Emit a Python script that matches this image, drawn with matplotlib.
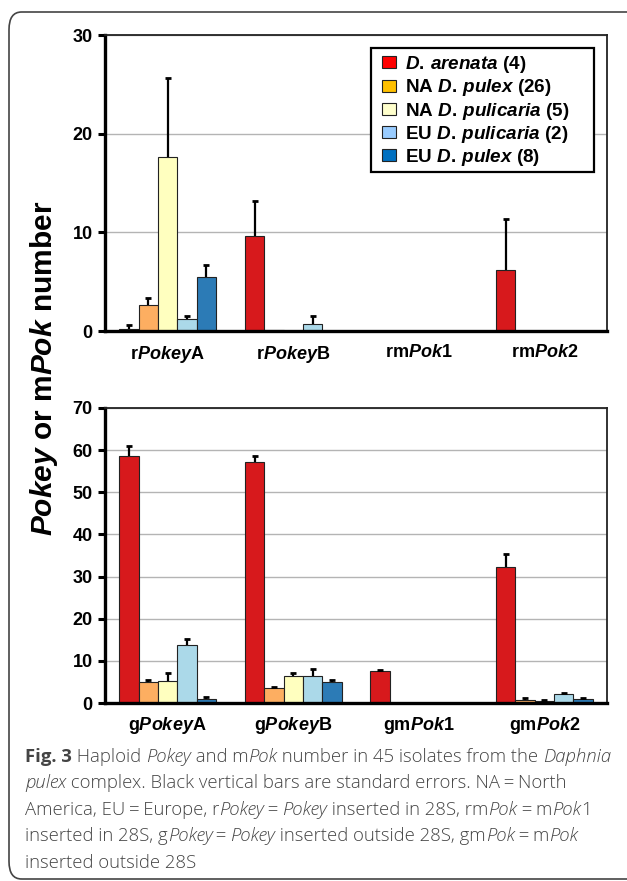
import numpy as np
import matplotlib
matplotlib.use("Agg")
import matplotlib.pyplot as plt
from matplotlib.patches import Patch, FancyBboxPatch, Rectangle

plt.rcParams['mathtext.fontset'] = 'custom'
plt.rcParams['mathtext.rm'] = 'Liberation Sans:bold'
plt.rcParams['mathtext.it'] = 'Liberation Sans:italic:bold'
plt.rcParams['mathtext.bf'] = 'Liberation Sans:bold'
plt.rcParams['font.family'] = ['Liberation Sans', 'DejaVu Sans']
plt.rcParams['font.weight'] = 'bold'

# ---------------- data ----------------
series = ['$D.\\,arenata$ (4)', 'NA $D.\\,pulex$ (26)', 'NA $D.\\,pulicaria$ (5)',
          'EU $D.\\,pulicaria$ (2)', 'EU $D.\\,pulex$ (8)']
bar_colors = ['#d7191c', '#fdae61', '#ffffbf', '#abd9e9', '#2c7bb6']
legend_colors = ['#ff0000', '#ffc000', '#ffffcc', '#99ccff', '#0070c0']

top_groups = ['r$Pokey$A', 'r$Pokey$B', 'rm$Pok$1', 'rm$Pok$2']
top_arenata = [0.25, 9.6, 0.0, 6.15]
top_na_pulex = [2.6, 0.13, 0.0, 0.0]
top_na_pulicaria = [17.6, 0.0, 0.0, 0.0]
top_eu_pulicaria = [1.2, 0.75, 0.0, 0.0]
top_eu_pulex = [5.5, 0.0, 0.0, 0.0]
top_err_arenata = [0.35, 3.6, 0.0, 5.25]
top_err_na_pulex = [0.75, 0.0, 0.0, 0.0]
top_err_na_pulicaria = [8.0, 0.0, 0.0, 0.0]
top_err_eu_pulicaria = [0.35, 0.8, 0.0, 0.0]
top_err_eu_pulex = [1.2, 0.0, 0.0, 0.0]

bot_groups = ['g$Pokey$A', 'g$Pokey$B', 'gm$Pok$1', 'gm$Pok$2']
bot_arenata = [58.5, 57.3, 7.5, 32.3]
bot_na_pulex = [5.05, 3.6, 0.0, 0.8]
bot_na_pulicaria = [5.3, 6.5, 0.0, 0.45]
bot_eu_pulicaria = [13.7, 6.5, 0.0, 2.05]
bot_eu_pulex = [1.0, 4.9, 0.0, 1.0]
bot_err_arenata = [2.4, 1.3, 0.4, 3.1]
bot_err_na_pulex = [0.45, 0.3, 0.0, 0.3]
bot_err_na_pulicaria = [1.8, 0.7, 0.0, 0.25]
bot_err_eu_pulicaria = [1.5, 1.6, 0.0, 0.25]
bot_err_eu_pulex = [0.4, 0.5, 0.0, 0.25]

top_vals = [top_arenata, top_na_pulex, top_na_pulicaria, top_eu_pulicaria, top_eu_pulex]
top_errs = [top_err_arenata, top_err_na_pulex, top_err_na_pulicaria, top_err_eu_pulicaria, top_err_eu_pulex]
bot_vals = [bot_arenata, bot_na_pulex, bot_na_pulicaria, bot_eu_pulicaria, bot_eu_pulex]
bot_errs = [bot_err_arenata, bot_err_na_pulex, bot_err_na_pulicaria, bot_err_eu_pulicaria, bot_err_eu_pulex]

W, H = 627, 881
fig = plt.figure(figsize=(W / 100, H / 100), dpi=100)

def fx(px):
    return px / W

def fy(py):
    return 1 - py / H

bw = 0.154

def draw_panel(ax, groups, vals, errs, ymax):
    x = np.arange(len(groups))
    for i, (v, e) in enumerate(zip(vals, errs)):
        pos = x + (i - 2) * bw
        ax.bar(pos, v, width=bw, color=bar_colors[i], edgecolor='#222222',
               linewidth=0.8, zorder=2)
        v = np.asarray(v)
        e = np.asarray(e)
        m = e > 0
        ax.vlines(pos[m], v[m], v[m] + e[m], colors='black', linewidth=1.6, zorder=3)
        ax.plot(pos[m], v[m] + e[m], linestyle='none', marker='_', markersize=5,
                markeredgewidth=2.0, color='black', zorder=3)
    ax.set_xlim(-0.5, len(groups) - 0.5)
    ax.set_ylim(0, ymax)
    ax.set_yticks(np.arange(0, ymax + 1, 10))
    ax.yaxis.grid(True, color='#b4b4b4', linewidth=1.0, zorder=0)
    ax.set_axisbelow(True)
    ax.set_xticks(x)
    ax.set_xticklabels(groups, fontsize=13, fontweight='bold')
    ax.tick_params(axis='x', length=0, pad=9)
    ax.tick_params(axis='y', direction='out', length=5, width=2.2,
                   labelsize=13, pad=4)
    for lab in ax.get_yticklabels():
        lab.set_fontweight('bold')
    for s in ['left', 'bottom']:
        ax.spines[s].set_linewidth(2.4)
        ax.spines[s].set_color('black')
    for s in ['top', 'right']:
        ax.spines[s].set_linewidth(1.3)
        ax.spines[s].set_color('#222222')

ax1 = fig.add_axes([fx(105), fy(331), fx(607) - fx(105), fy(35) - fy(331)])
draw_panel(ax1, top_groups, top_vals, top_errs, 30)

ax2 = fig.add_axes([fx(105), fy(703), fx(607) - fx(105), fy(408) - fy(703)])
draw_panel(ax2, bot_groups, bot_vals, bot_errs, 70)

# legend: frame drawn separately (wider right padding as in the original)
frame = Rectangle((fx(371), fy(172)), fx(594) - fx(371), fy(48) - fy(172),
                  transform=fig.transFigure, facecolor='white', edgecolor='black',
                  linewidth=1.6, zorder=4)
fig.add_artist(frame)
handles = [Patch(facecolor=c, edgecolor='#222222', linewidth=0.8) for c in legend_colors]
leg = fig.legend(handles, series, loc='upper left',
                 bbox_to_anchor=(fx(382), fy(54)), bbox_transform=fig.transFigure,
                 frameon=False,
                 prop={'family': 'Liberation Sans', 'weight': 'bold', 'size': 13.6},
                 handlelength=0.74, handleheight=0.6, handletextpad=0.46,
                 labelspacing=0.12, borderpad=0, borderaxespad=0)
leg.set_zorder(5)

fig.text(fx(44), fy(368), '$Pokey$ or m$Pok$ number', rotation=90,
         ha='center', va='center', fontsize=21.5, fontweight='bold')

# outer rounded border
border = FancyBboxPatch((fx(9), fy(879)), fx(640) - fx(9), fy(12) - fy(879),
                        boxstyle='round,pad=0,rounding_size=0.02',
                        transform=fig.transFigure, fill=False,
                        edgecolor='#444444', linewidth=1.2)
fig.add_artist(border)

# caption (rich text chained piecewise)
cap_ax = fig.add_axes([0, 0, 1, 1], facecolor='none')
cap_ax.set_axis_off()
cap_ax.set_xlim(0, 1)
cap_ax.set_ylim(0, 1)
cap_size = 13.3
cap_color = '#444444'
caption_lines = [
    [('Fig. 3', 'b'), (' Haploid ', 'n'), ('Pokey', 'i'), (' and m', 'n'), ('Pok', 'i'),
     (' number in 45 isolates from the ', 'n'), ('Daphnia', 'i')],
    [('pulex', 'i'), (' complex. Black vertical bars are standard errors. NA\u2009=\u2009North', 'n')],
    [('America, EU\u2009=\u2009Europe, r', 'n'), ('Pokey', 'i'), ('\u2009=\u2009', 'n'), ('Pokey', 'i'),
     (' inserted in 28S, rm', 'n'), ('Pok', 'i'), ('\u2009=\u2009m', 'n'), ('Pok', 'i'), ('1', 'n')],
    [('inserted in 28S, g', 'n'), ('Pokey', 'i'), ('\u2009=\u2009', 'n'), ('Pokey', 'i'),
     (' inserted outside 28S, gm', 'n'), ('Pok', 'i'), ('\u2009=\u2009m', 'n'), ('Pok', 'i')],
    [('inserted outside 28S', 'n')],
]
line_y = [757, 783, 810, 836, 863]

def style(k):
    d = dict(fontsize=cap_size, color=cap_color, family=['Open Sans', 'DejaVu Sans'])
    if k == 'b':
        d['fontweight'] = 'bold'
    else:
        d['fontweight'] = 'light'
    if k == 'i':
        d['fontstyle'] = 'italic'
    return d

for segs, ly in zip(caption_lines, line_y):
    prev = None
    for s, k in segs:
        if prev is None:
            prev = cap_ax.text(fx(25), fy(ly), s, ha='left', va='center', **style(k))
        else:
            prev = cap_ax.annotate(s, xy=(1, 0), xycoords=prev, xytext=(0, 0),
                                   textcoords='offset points', ha='left', va='bottom',
                                   **style(k))

fig.savefig('out.png', dpi=100)
